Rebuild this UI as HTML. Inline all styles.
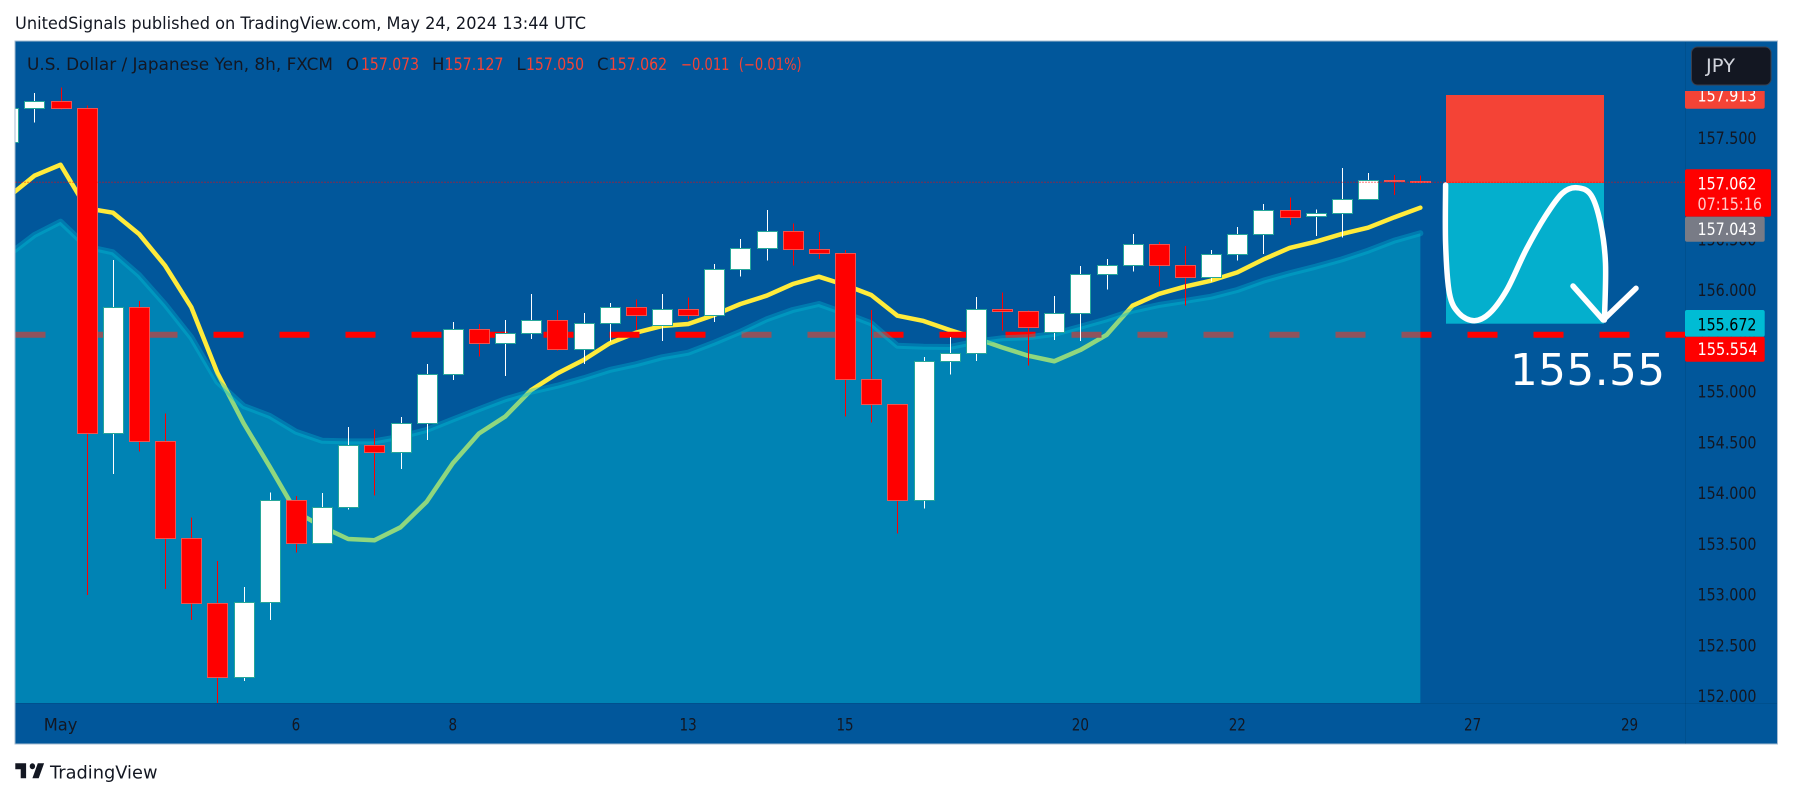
<!DOCTYPE html>
<html lang="en">
<head>
<meta charset="utf-8">
<title>USD/JPY 8h chart</title>
<style>
html,body{margin:0;padding:0;background:#fff;width:1793px;height:798px;overflow:hidden}
svg{display:block}
text{font-family:"DejaVu Sans","Liberation Sans",sans-serif}
</style>
</head>
<body>
<svg id="chart" xmlns="http://www.w3.org/2000/svg" width="1793" height="798" viewBox="0 0 1793 798">
  <defs>
    <clipPath id="paneClip"><rect x="15.5" y="42" width="1669.5" height="661"/></clipPath>
    <clipPath id="topLabelClip"><rect x="1680" y="91" width="100" height="30"/></clipPath>
  </defs>
  <rect x="0" y="0" width="1793" height="798" fill="#ffffff"/>
  <text x="15" y="29" font-size="17" fill="#131722" textLength="571" lengthAdjust="spacingAndGlyphs">UnitedSignals published on TradingView.com, May 24, 2024 13:44 UTC</text>
  <rect x="15" y="41" width="1762.5" height="703" fill="#01579b" stroke="#a7bcd2" stroke-width="1"/>
  <g id="underlay" clip-path="url(#paneClip)"></g>
  <g id="areaLayer" clip-path="url(#paneClip)"></g>
  <g id="candles" clip-path="url(#paneClip)"></g>

  <g>
    <rect x="1446" y="95" width="158" height="88" fill="#f44336"/>
    <rect x="1446" y="183" width="158" height="140.7" fill="#04afcd"/>
    <path fill="none" stroke="#ffffff" stroke-width="5.5" stroke-linecap="round" stroke-linejoin="round" d="M1445.6 185 C1445.6 194.7 1445 225.3 1445.6 243.3 C1446.2 261.3 1447.2 281.6 1449.4 293.3 C1451.6 305 1454.8 308.7 1459 313.3 C1463.2 317.9 1469.2 320.7 1474.3 320.7 C1479.4 320.7 1484.2 318.4 1489.6 313.3 C1495 308.2 1500.7 300.5 1506.8 290 C1512.9 279.5 1519.6 262.2 1526 250 C1532.4 237.8 1539 226.1 1545 216.7 C1551 207.3 1557 198.1 1562.3 193.3 C1567.6 188.5 1572 187.4 1576.8 187.7 C1581.6 188 1587 189 1591 195 C1595 201 1598.1 211.9 1600.5 223.3 C1602.9 234.7 1604.85 247.2 1605.5 263.3 C1606.15 279.4 1604.6 310.5 1604.4 320"/>
    <path fill="none" stroke="#ffffff" stroke-width="5.5" stroke-linecap="round" stroke-linejoin="round" d="M1573 286 L1603.2 320 L1636 288.3"/>
    <text x="1510" y="385" font-size="43.5" fill="#ffffff" textLength="155" lengthAdjust="spacing">155.55</text>
  </g>

  <g id="lastLine" clip-path="url(#paneClip)"></g>

  <g font-size="16.5">
    <text x="27" y="70" fill="#131722" textLength="306" lengthAdjust="spacingAndGlyphs">U.S. Dollar / Japanese Yen, 8h, FXCM</text>
    <text x="346" y="70" fill="#131722">O</text>
    <text x="361" y="70" fill="#f44336" textLength="58" lengthAdjust="spacingAndGlyphs">157.073</text>
    <text x="432" y="70" fill="#131722">H</text>
    <text x="444.5" y="70" fill="#f44336" textLength="59" lengthAdjust="spacingAndGlyphs">157.127</text>
    <text x="516.5" y="70" fill="#131722">L</text>
    <text x="526" y="70" fill="#f44336" textLength="58" lengthAdjust="spacingAndGlyphs">157.050</text>
    <text x="597" y="70" fill="#131722">C</text>
    <text x="608.7" y="70" fill="#f44336" textLength="58.5" lengthAdjust="spacingAndGlyphs">157.062</text>
    <text x="681" y="70" fill="#f44336" textLength="48.5" lengthAdjust="spacingAndGlyphs">−0.011</text>
    <text x="738.7" y="70" fill="#f44336" textLength="63" lengthAdjust="spacingAndGlyphs">(−0.01%)</text>
  </g>

  <line x1="1685.5" y1="42" x2="1685.5" y2="744" stroke="#000000" stroke-opacity="0.08"/>
  <line x1="15.5" y1="703.5" x2="1777" y2="703.5" stroke="#000000" stroke-opacity="0.08"/>
  <g id="priceAxis" font-size="16.5" fill="#131722"></g>
  <g id="timeAxis" font-size="16.5" fill="#131722"></g>

  <g font-size="16.5">
    <g clip-path="url(#topLabelClip)">
      <rect x="1685" y="84" width="79.7" height="24.7" rx="2" fill="#f44336"/>
      <text x="1697.5" y="101.7" fill="#ffffff" textLength="59" lengthAdjust="spacingAndGlyphs">157.913</text>
    </g>
    <rect x="1685" y="169.3" width="86" height="47.4" rx="2" fill="#ff0000"/>
    <text x="1697.5" y="189.3" fill="#ffffff" textLength="59" lengthAdjust="spacingAndGlyphs">157.062</text>
    <text x="1697.5" y="210" fill="#ffc9c9" textLength="64.5" lengthAdjust="spacingAndGlyphs">07:15:16</text>
    <rect x="1685" y="216.7" width="79.7" height="25" rx="2" fill="#787b86"/>
    <text x="1697.5" y="235" fill="#ffffff" textLength="59" lengthAdjust="spacingAndGlyphs">157.043</text>
    <rect x="1685" y="310" width="79.7" height="26.7" rx="2" fill="#00bcd4"/>
    <text x="1697.5" y="330.5" fill="#000000" textLength="59" lengthAdjust="spacingAndGlyphs">155.672</text>
    <rect x="1685" y="336.7" width="79.7" height="25" rx="2" fill="#ff0000"/>
    <text x="1697.5" y="355" fill="#ffffff" textLength="60" lengthAdjust="spacingAndGlyphs">155.554</text>
  </g>

  <g>
    <rect x="1691.5" y="47" width="79.5" height="38" rx="6" fill="#131722" stroke="#3a3f4d" stroke-width="1"/>
    <text x="1706" y="72" font-size="18.5" fill="#d1d4dc" textLength="29" lengthAdjust="spacingAndGlyphs">JPY</text>
  </g>

  <g>
    <path transform="translate(13.5 757.3) scale(0.9 1)" fill="#131722" d="M14 6H2v6h6v9h6V6zm14 15h-7l6-15h7l-6 15zm-7-9a3 3 0 1 0 0-6 3 3 0 0 0 0 6z"/>
    <text x="50" y="778.3" font-size="18" fill="#131722" textLength="107.5" lengthAdjust="spacingAndGlyphs">TradingView</text>
  </g>
</svg>
<script>
const opens = [157.455,157.790,157.859,157.790,154.594,155.830,154.515,153.554,152.913,152.190,152.923,153.928,153.510,153.859,154.470,154.407,154.687,155.169,155.613,155.481,155.573,155.701,155.416,155.672,155.830,155.658,155.810,155.751,156.204,156.411,156.578,156.401,156.362,155.120,154.874,153.928,155.303,155.382,155.810,155.790,155.583,155.770,156.155,156.243,156.450,156.243,156.131,156.352,156.549,156.785,156.726,156.756,156.894,157.081,157.073];
const highs = [157.850,157.941,157.997,157.820,156.296,155.892,154.785,153.757,153.330,153.074,154.007,153.970,154.000,154.650,154.628,154.749,155.271,155.685,155.665,155.704,155.961,155.803,155.773,155.872,155.908,155.961,155.928,156.256,156.502,156.788,156.657,156.571,156.394,155.803,154.877,155.340,155.537,155.931,155.977,155.800,155.941,156.236,156.305,156.552,156.473,156.433,156.394,156.621,156.847,156.913,156.795,157.202,157.153,157.133,157.127];
const lows = [157.400,157.648,157.780,152.995,154.187,154.407,153.054,152.749,151.911,152.148,152.749,153.412,153.500,153.835,153.973,154.236,154.522,155.113,155.343,155.153,155.517,155.402,155.271,155.491,155.606,155.498,155.711,155.685,156.131,156.289,156.243,156.305,154.752,154.693,153.603,153.845,155.166,155.300,155.603,155.254,155.507,155.500,156.003,156.180,156.033,155.845,156.082,156.289,156.355,156.640,156.532,156.515,156.894,156.936,157.050];
const closes = [157.790,157.859,157.790,154.594,155.830,154.515,153.554,152.913,152.190,152.923,153.928,153.510,153.859,154.470,154.407,154.687,155.169,155.613,155.481,155.573,155.701,155.416,155.672,155.830,155.751,155.810,155.751,156.204,156.411,156.578,156.401,156.362,155.120,154.874,153.928,155.303,155.382,155.810,155.790,155.638,155.770,156.155,156.243,156.450,156.243,156.131,156.352,156.549,156.785,156.722,156.756,156.894,157.081,157.074,157.062];
const fastAverage = [156.916,157.126,157.234,156.805,156.762,156.552,156.239,155.830,155.182,154.687,154.259,153.816,153.668,153.547,153.534,153.662,153.914,154.293,154.586,154.752,155.015,155.179,155.310,155.475,155.579,155.645,155.665,155.754,155.862,155.944,156.059,156.131,156.049,155.951,155.747,155.695,155.606,155.524,155.435,155.353,155.298,155.409,155.557,155.847,155.961,156.034,156.092,156.174,156.302,156.414,156.476,156.552,156.614,156.716,156.811];
const slowAverage = [156.345,156.542,156.673,156.427,156.371,156.148,155.857,155.532,155.094,154.857,154.759,154.604,154.515,154.509,154.509,154.555,154.621,154.724,154.825,154.923,154.998,155.057,155.130,155.212,155.268,155.337,155.382,155.481,155.589,155.711,155.803,155.862,155.770,155.672,155.451,155.441,155.438,155.491,155.524,155.534,155.567,155.638,155.711,155.796,155.852,155.892,155.934,156.000,156.092,156.165,156.230,156.302,156.387,156.486,156.559];
const priceTicks = ["157.500","157.000","156.500","156.000","155.500","155.000","154.500","154.000","153.500","153.000","152.500","152.000"];
const dateLabels = ["May","6","8","13","15","20","22","27","29"];
const dateBars = [2,11,17,26,32,41,47,56,62];
const levelPrice = 155.554;
const lastPrice = 157.062;

const NS = 'http://www.w3.org/2000/svg';
function xScale(i){ return 8.25 + 26.15 * i; }
function yScale(p){ return 290 + (156 - p) * 101.5; }
const PANE_LEFT = 15.5, PANE_RIGHT = 1685, PANE_BOTTOM = 703;
function make(tag, parent, props){
  const el = document.createElementNS(NS, tag);
  for (const k in props) el.setAttribute(k, props[k]);
  parent.appendChild(el);
  return el;
}
function linePath(values){
  return values.map((v, i) => (i ? 'L' : 'M') + xScale(i).toFixed(2) + ' ' + yScale(v).toFixed(2)).join(' ');
}

const under = document.getElementById('underlay');
const fastLine = make('path', under, {d: linePath(fastAverage), fill: 'none', stroke: '#ffeb3b', 'stroke-width': 4.5, 'stroke-linecap': 'round', 'stroke-linejoin': 'round'});


const levelLine = make('line', under, {x1: PANE_LEFT, x2: PANE_RIGHT, y1: yScale(levelPrice) - 0.5, y2: yScale(levelPrice) - 0.5, stroke: '#ff0000', 'stroke-width': 6, 'stroke-dasharray': '30 36'});



const areaLayer = document.getElementById('areaLayer');
const lastIndex = slowAverage.length - 1;
const areaFill = make('path', areaLayer, {d: linePath(slowAverage) + ' L' + xScale(lastIndex).toFixed(2) + ' ' + PANE_BOTTOM + ' L' + xScale(0).toFixed(2) + ' ' + PANE_BOTTOM + ' Z', fill: '#00bcd4', 'fill-opacity': 0.44});


const areaLine = make('path', areaLayer, {d: linePath(slowAverage), fill: 'none', stroke: '#00bcd4', 'stroke-opacity': 0.35, 'stroke-width': 6, 'stroke-linecap': 'round', 'stroke-linejoin': 'round'});



const candles = document.getElementById('candles');
opens.forEach((open, i) => {
  const close = closes[i];
  const up = close >= open;
  const cx = Math.round(xScale(i));
  const wick = make('line', candles, {x1: cx + 0.5, x2: cx + 0.5, y1: yScale(highs[i]), y2: yScale(lows[i]), stroke: up ? '#ffffff' : '#ff0000', 'stroke-width': 1, 'shape-rendering': 'crispEdges'});
  
  
  const top = yScale(Math.max(open, close));
  const bottom = yScale(Math.min(open, close));
  const body = make('rect', candles, {x: cx - 9.5, y: Math.round(top) + 0.5, width: 20, height: Math.max(1, Math.round(bottom) - Math.round(top)), fill: up ? '#ffffff' : '#ff0000', stroke: up ? '#26a69a' : '#ef5350', 'stroke-width': 1, 'shape-rendering': 'crispEdges'});
  
  
});

const lastLayer = document.getElementById('lastLine');
const lastLine = make('line', lastLayer, {x1: PANE_LEFT, x2: PANE_RIGHT, y1: yScale(lastPrice), y2: yScale(lastPrice), stroke: '#ff0000', 'stroke-width': 1, 'stroke-dasharray': '1 2'});



const priceAxis = document.getElementById('priceAxis');
priceTicks.forEach(label => {
  const t = make('text', priceAxis, {x: 1697.5, y: yScale(parseFloat(label)) + 6.2, textLength: 59, lengthAdjust: 'spacingAndGlyphs'});
  t.textContent = label;
  
  
});

const timeAxis = document.getElementById('timeAxis');
dateLabels.forEach((label, i) => {
  const t = make('text', timeAxis, {x: xScale(dateBars[i]), y: 730.7, 'text-anchor': 'middle', textLength: label === 'May' ? 33.7 : label.length * 8.6, lengthAdjust: 'spacingAndGlyphs'});
  t.textContent = label;
  
  
});
</script>
</body>
</html>
